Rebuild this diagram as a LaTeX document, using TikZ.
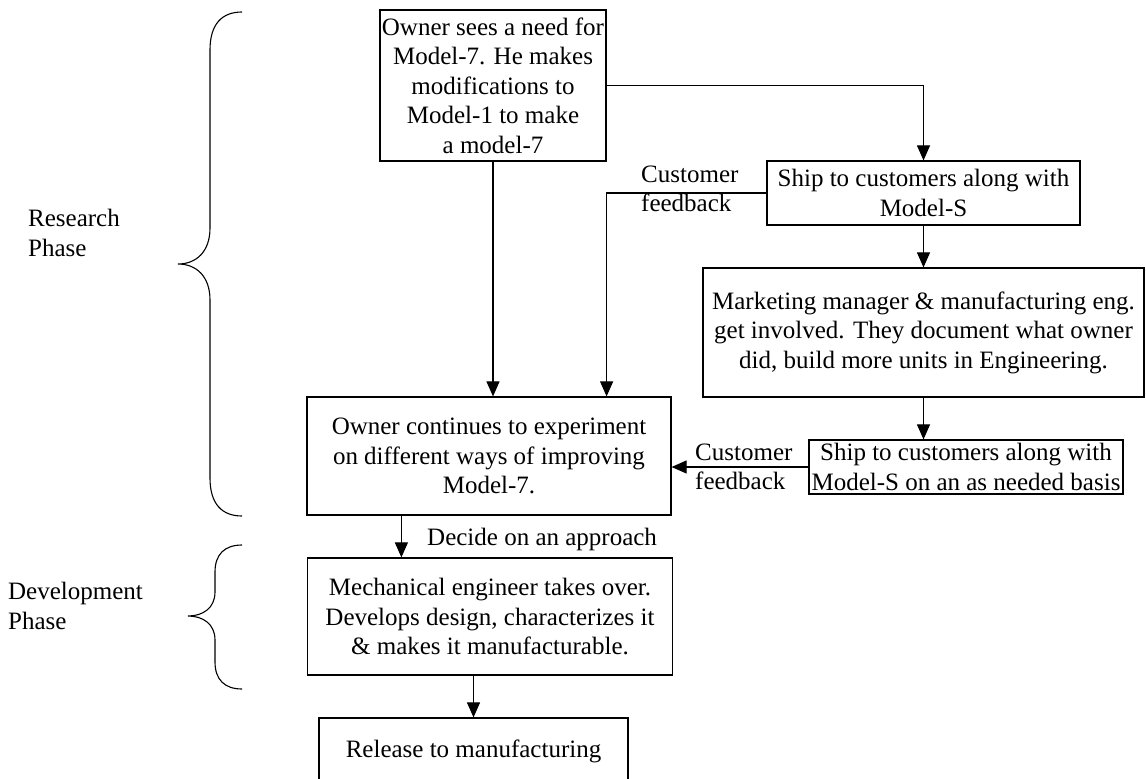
\documentclass[tikz,border=0pt]{standalone}
\usepackage{fontspec}
\setmainfont{Liberation Serif}
\usetikzlibrary{arrows.meta}
\begin{document}
\begin{tikzpicture}[x=1pt,y=-1pt,
  box/.style={draw, line width=1.2pt, inner sep=0pt, align=center,
    font=\fontsize{25}{29.5}\selectfont},
  lbl/.style={inner sep=0pt, align=left, font=\fontsize{25}{29.5}\selectfont},
  flow/.style={line width=1.1pt, -{Triangle[width=13pt,length=15pt]}},
  bracket/.style={line width=1.1pt}]
\useasboundingbox (0,0) rectangle (1146,779);

% process boxes
\node[box, minimum width=226pt, minimum height=151pt] (own) at (493,85.5)
  {Owner sees a need for\\Model-7. He makes\\modifications to\\Model-1 to make\\a model-7};
\node[box, minimum width=313pt, minimum height=64pt] (ship1) at (923.5,193)
  {Ship to customers along with\\Model-S};
\node[box, minimum width=441pt, minimum height=129pt] (mkt) at (923.5,332.5)
  {Marketing manager \& manufacturing eng.\\get involved. They document what owner\\did, build more units in Engineering.};
\node[box, minimum width=314pt, minimum height=54pt] (ship2) at (966,467)
  {Ship to customers along with\\Model-S on an as needed basis};
\node[box, minimum width=364pt, minimum height=118pt] (cont) at (489,456)
  {Owner continues to experiment\\on different ways of improving\\Model-7.};
\node[box, minimum width=365pt, minimum height=117pt] (mech) at (490,616.5)
  {Mechanical engineer takes over.\\Develops design, characterizes it\\\& makes it manufacturable.};
\node[box, minimum width=309pt, minimum height=67pt] (rel) at (473.5,751.5)
  {Release to manufacturing};

% labels
\node[lbl, anchor=west] (fb1) at (641,189) {Customer\\feedback};
\node[lbl, anchor=west] (fb2) at (695,467) {Customer\\feedback};
\node[lbl, anchor=base west] (dec) at (427,545) {Decide on an approach};
\node[lbl, anchor=west] (rp) at (28,233) {Research\\Phase};
\node[lbl, anchor=west] (dp) at (8,606) {Development\\Phase};

% connectors
\draw[flow] (own.east) -| (ship1.north);
\draw[flow] (ship1.west) -| (own.east |- cont.north);
\draw[flow] (own.south) -- (own.south |- cont.north);
\draw[flow] (ship1.south) -- (mkt.north);
\draw[flow] (mkt.south) -- (mkt.south |- ship2.north);
\draw[flow] (ship2.west) -- (ship2.west -| cont.east);
\coordinate (cf) at ([xshift=95pt]cont.south west);
\draw[flow] (cf) -- (cf |- mech.north);
\draw[flow] (mech.south -| rel.north) -- (rel.north);

% phase braces
\draw[bracket] (242,12) .. controls (222,12) and (210,24) .. (210,50)
  -- (210,228) .. controls (210,252) and (196,264) .. (178,264)
  .. controls (196,264) and (210,276) .. (210,300)
  -- (210,478) .. controls (210,504) and (222,516) .. (242,516);
\draw[bracket] (242,545) .. controls (225,545) and (215,554) .. (215,572)
  -- (215,592) .. controls (215,608) and (203,616) .. (188,616)
  .. controls (203,616) and (215,624) .. (215,640)
  -- (215,662) .. controls (215,680) and (225,689) .. (242,689);
\end{tikzpicture}
\end{document}
